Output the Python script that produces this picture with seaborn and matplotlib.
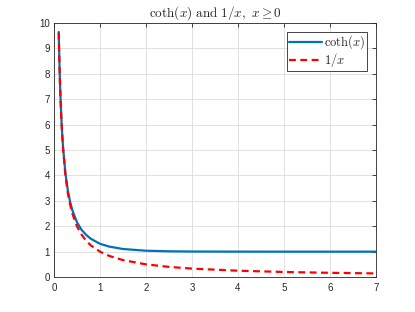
import matplotlib
matplotlib.use('Agg')
import matplotlib.pyplot as plt
import seaborn as sns
import pandas as pd

# values
x_vals = [0.104, 0.11, 0.12, 0.13, 0.14, 0.16, 0.18, 0.2, 0.25, 0.3, 0.35, 0.4,
          0.5, 0.6, 0.7, 0.8, 1.0, 1.2, 1.5, 2.0, 2.5, 3.0, 4.0, 5.0, 6.0, 7.0]
coth_vals = [9.65, 9.13, 8.37, 7.74, 7.19, 6.30, 5.62, 5.07, 4.08, 3.43, 2.97, 2.63,
             2.16, 1.86, 1.66, 1.51, 1.31, 1.20, 1.105, 1.037, 1.014, 1.005, 1.001, 1.0, 1.0, 1.0]
inv_vals = [9.62, 9.09, 8.33, 7.69, 7.14, 6.25, 5.56, 5.0, 4.0, 3.33, 2.86, 2.5,
            2.0, 1.67, 1.43, 1.25, 1.0, 0.833, 0.667, 0.5, 0.4, 0.333, 0.25, 0.2, 0.167, 0.143]

df = pd.DataFrame({'x': x_vals, 'coth': coth_vals, 'inv': inv_vals})

sns.set_style('whitegrid')
plt.rcParams['font.family'] = ['Liberation Sans', 'DejaVu Sans']
plt.rcParams['mathtext.fontset'] = 'cm'

fig = plt.figure(figsize=(4.15, 3.12), dpi=100)
ax = fig.add_axes([0.13, 0.112, 0.776, 0.814])

sns.lineplot(data=df, x='x', y='coth', ax=ax, color='#0072BD', linewidth=1.6,
             label=r'$\coth(x)$')
sns.lineplot(data=df, x='x', y='inv', ax=ax, color='#FF0000', linewidth=1.6,
             linestyle=(0, (3.1, 2.0)), label=r'$1/x$')

ax.set_xlim(0, 7)
ax.set_ylim(0, 10)
ax.set_xticks(range(0, 8))
ax.set_yticks(range(0, 11))
ax.set_xlabel('')
ax.set_ylabel('')
ax.grid(True, color='#dcdcdc', linewidth=0.6)
for s in ax.spines.values():
    s.set_visible(True)
    s.set_color('#262626')
    s.set_linewidth(0.6)
ax.tick_params(axis='both', direction='in', length=3, width=0.6, labelsize=7,
               colors='#262626', top=True, right=True, pad=3)
ax.tick_params(axis='x', pad=4)

ax.set_title(r'$\mathrm{coth}(x)\ \mathrm{and}\ 1/x,\ x \geq 0$', fontsize=9.5, pad=5)

leg = ax.legend(loc='upper right', fontsize=9, frameon=True, fancybox=False,
                edgecolor='#262626', framealpha=1, handlelength=2.6,
                borderpad=0.15, labelspacing=0.0, handletextpad=0.2,
                borderaxespad=0.7)
leg.get_frame().set_linewidth(0.6)

fig.savefig('out.png', dpi=100)
